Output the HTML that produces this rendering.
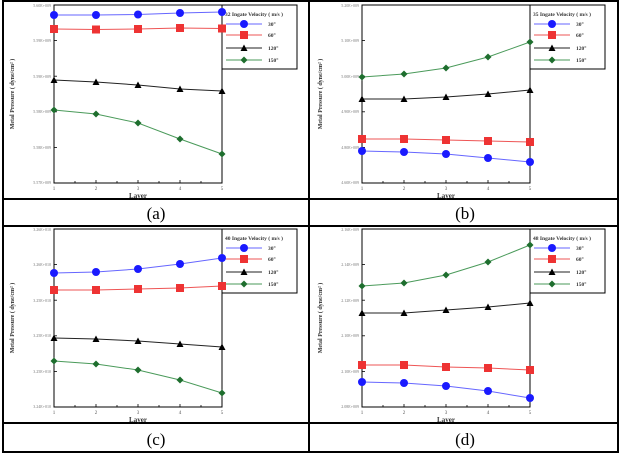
<!DOCTYPE html>
<html><head><meta charset="utf-8"><style>
body{margin:0;background:#fff;}
svg{display:block;font-family:"Liberation Serif",serif;}
</style></head><body>
<svg width="622" height="453" viewBox="0 0 622 453">
<defs>
<marker id="mc" viewBox="-5 -5 10 10" markerWidth="10" markerHeight="10" markerUnits="userSpaceOnUse"><circle r="4" fill="#1a1aff"/></marker>
<marker id="ms" viewBox="-5 -5 10 10" markerWidth="10" markerHeight="10" markerUnits="userSpaceOnUse"><rect x="-4" y="-4" width="8" height="8" fill="#ee3333"/></marker>
<marker id="mt" viewBox="-5 -5 10 10" markerWidth="10" markerHeight="10" markerUnits="userSpaceOnUse"><path d="M0,-3.5 L3.5,3 L-3.5,3Z" fill="#000"/></marker>
<marker id="md" viewBox="-5 -5 10 10" markerWidth="10" markerHeight="10" markerUnits="userSpaceOnUse"><path d="M0,-3.5 L3.5,0 L0,3.5 L-3.5,0Z" fill="#1e6e2e"/></marker>
<g id="frame">
<rect x="0" y="0" width="168" height="178" fill="none" stroke="#000" stroke-width="1"/>
<g stroke="#000" stroke-width="0.8">
<line x1="0" y1="35.6" x2="3" y2="35.6"/><line x1="0" y1="71.2" x2="3" y2="71.2"/><line x1="0" y1="106.8" x2="3" y2="106.8"/><line x1="0" y1="142.4" x2="3" y2="142.4"/>
<line x1="42" y1="178" x2="42" y2="175"/><line x1="84" y1="178" x2="84" y2="175"/><line x1="126" y1="178" x2="126" y2="175"/>
<line x1="21" y1="178" x2="21" y2="176"/><line x1="63" y1="178" x2="63" y2="176"/><line x1="105" y1="178" x2="105" y2="176"/><line x1="147" y1="178" x2="147" y2="176"/>
</g>
<g font-size="5" fill="#555" text-anchor="middle">
<text x="0" y="185">1</text><text x="42" y="185">2</text><text x="84" y="185">3</text><text x="126" y="185">4</text><text x="168" y="185">5</text>
</g>
<text x="84" y="193" font-size="7" font-weight="bold" text-anchor="middle" fill="#333">Layer</text>
<text transform="translate(-40,89) rotate(-90)" font-size="6" font-weight="bold" text-anchor="middle" fill="#333">Metal Pressure ( dyne/cm² )</text>
<rect x="168" y="0" width="75" height="64" fill="#fff" stroke="#000" stroke-width="1"/>
<g stroke-width="1" fill="none">
<polyline points="172,19 208,19" stroke="#6666ff" marker-mid="url(#mc)"/>
<polyline points="172,30 190,30 208,30" stroke="#ee5555" marker-mid="url(#ms)"/>
<polyline points="172,43 190,43 208,43" stroke="#222" marker-mid="url(#mt)"/>
<polyline points="172,55 190,55 208,55" stroke="#4a9a5a" marker-mid="url(#md)"/>
</g>
<circle cx="190" cy="19" r="4" fill="#1a1aff"/>
<g font-size="5.5" font-weight="bold" fill="#333">
<text x="214" y="21">30°</text><text x="214" y="32">60°</text><text x="214" y="45">120°</text><text x="214" y="57">150°</text>
</g>
</g>
</defs>

<!-- table borders -->
<g stroke="#000" stroke-width="2" fill="none">
<rect x="3" y="1" width="615" height="451"/>
<line x1="309" y1="0" x2="309" y2="452"/>
<line x1="3" y1="199" x2="618" y2="199"/>
<line x1="3" y1="226" x2="618" y2="226"/>
<line x1="3" y1="423" x2="618" y2="423"/>
</g>
<g font-size="17" text-anchor="middle" fill="#000">
<text x="156" y="219">(a)</text><text x="465" y="219">(b)</text>
<text x="156" y="445">(c)</text><text x="465" y="445">(d)</text>
</g>

<!-- (a) -->
<g transform="translate(54,5)">
<use href="#frame"/>
<text x="171" y="11" font-size="5.5" font-weight="bold" fill="#333">32 Ingate Velocity ( m/s )</text>
<g font-size="4" fill="#777" text-anchor="end">
<text x="-3" y="2">5.60E+009</text><text x="-3" y="37">5.59E+009</text><text x="-3" y="73">5.59E+009</text><text x="-3" y="108">5.58E+009</text><text x="-3" y="144">5.58E+009</text><text x="-3" y="179">5.57E+009</text>
</g>
<g fill="none" stroke-width="1">
<polyline points="0,10 42,10 84,9.5 126,8 168,7" stroke="#6666ff" marker-start="url(#mc)" marker-mid="url(#mc)" marker-end="url(#mc)"/>
<polyline points="0,24 42,24.5 84,24 126,23 168,23.5" stroke="#ee5555" marker-start="url(#ms)" marker-mid="url(#ms)" marker-end="url(#ms)"/>
<polyline points="0,75 42,77 84,80 126,84 168,86" stroke="#222" marker-start="url(#mt)" marker-mid="url(#mt)" marker-end="url(#mt)"/>
<polyline points="0,105 42,109 84,118 126,134 168,149" stroke="#4a9a5a" marker-start="url(#md)" marker-mid="url(#md)" marker-end="url(#md)"/>
</g>
</g>

<!-- (b) -->
<g transform="translate(362,5)">
<use href="#frame"/>
<text x="171" y="11" font-size="5.5" font-weight="bold" fill="#333">35 Ingate Velocity ( m/s )</text>
<g font-size="4" fill="#777" text-anchor="end">
<text x="-3" y="2">5.20E+009</text><text x="-3" y="37">5.10E+009</text><text x="-3" y="73">5.00E+009</text><text x="-3" y="108">4.90E+009</text><text x="-3" y="144">4.80E+009</text><text x="-3" y="179">4.60E+009</text>
</g>
<g fill="none" stroke-width="1">
<polyline points="0,146 42,147 84,149 126,153 168,157" stroke="#6666ff" marker-start="url(#mc)" marker-mid="url(#mc)" marker-end="url(#mc)"/>
<polyline points="0,134 42,134 84,135 126,136 168,137" stroke="#ee5555" marker-start="url(#ms)" marker-mid="url(#ms)" marker-end="url(#ms)"/>
<polyline points="0,94 42,94 84,92 126,89 168,85" stroke="#222" marker-start="url(#mt)" marker-mid="url(#mt)" marker-end="url(#mt)"/>
<polyline points="0,72 42,69 84,63 126,52 168,37" stroke="#4a9a5a" marker-start="url(#md)" marker-mid="url(#md)" marker-end="url(#md)"/>
</g>
</g>

<!-- (c) -->
<g transform="translate(54,229)">
<use href="#frame"/>
<text x="171" y="11" font-size="5.5" font-weight="bold" fill="#333">40 Ingate Velocity ( m/s )</text>
<g font-size="4" fill="#777" text-anchor="end">
<text x="-3" y="2">3.26E+010</text><text x="-3" y="37">3.26E+010</text><text x="-3" y="73">3.25E+010</text><text x="-3" y="108">3.25E+010</text><text x="-3" y="144">3.25E+010</text><text x="-3" y="179">3.24E+010</text>
</g>
<g fill="none" stroke-width="1">
<polyline points="0,44 42,43 84,40 126,35 168,29" stroke="#6666ff" marker-start="url(#mc)" marker-mid="url(#mc)" marker-end="url(#mc)"/>
<polyline points="0,61 42,61 84,60 126,59 168,57" stroke="#ee5555" marker-start="url(#ms)" marker-mid="url(#ms)" marker-end="url(#ms)"/>
<polyline points="0,109 42,110 84,112 126,115 168,118" stroke="#222" marker-start="url(#mt)" marker-mid="url(#mt)" marker-end="url(#mt)"/>
<polyline points="0,132 42,135 84,141 126,151 168,164" stroke="#4a9a5a" marker-start="url(#md)" marker-mid="url(#md)" marker-end="url(#md)"/>
</g>
</g>

<!-- (d) -->
<g transform="translate(362,229)">
<use href="#frame"/>
<text x="171" y="11" font-size="5.5" font-weight="bold" fill="#333">48 Ingate Velocity ( m/s )</text>
<g font-size="4" fill="#777" text-anchor="end">
<text x="-3" y="2">2.16E+009</text><text x="-3" y="37">2.14E+009</text><text x="-3" y="73">2.12E+009</text><text x="-3" y="108">2.10E+009</text><text x="-3" y="144">2.10E+009</text><text x="-3" y="179">2.08E+009</text>
</g>
<g fill="none" stroke-width="1">
<polyline points="0,153 42,154 84,157 126,162 168,169" stroke="#6666ff" marker-start="url(#mc)" marker-mid="url(#mc)" marker-end="url(#mc)"/>
<polyline points="0,136 42,136 84,138 126,139 168,141" stroke="#ee5555" marker-start="url(#ms)" marker-mid="url(#ms)" marker-end="url(#ms)"/>
<polyline points="0,84 42,84 84,81 126,78 168,74" stroke="#222" marker-start="url(#mt)" marker-mid="url(#mt)" marker-end="url(#mt)"/>
<polyline points="0,57 42,54 84,46 126,33 168,16" stroke="#4a9a5a" marker-start="url(#md)" marker-mid="url(#md)" marker-end="url(#md)"/>
</g>
</g>
</svg>
</body></html>
